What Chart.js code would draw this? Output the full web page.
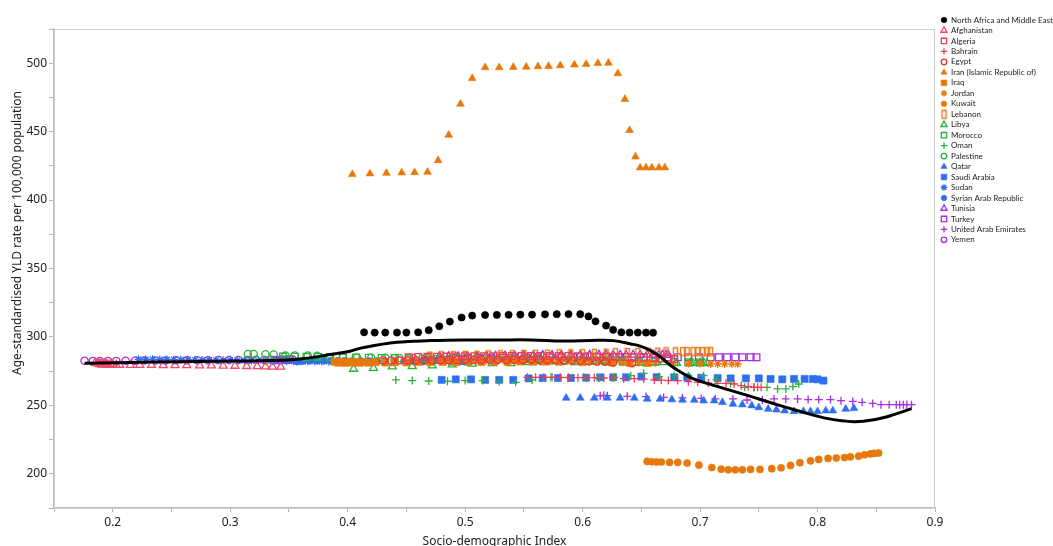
<!DOCTYPE html>
<html>
<head>
<meta charset="utf-8">
<script src="https://cdn.jsdelivr.net/npm/chart.js@4/dist/chart.umd.min.js"></script>
<style>
  html, body { margin: 0; padding: 0; background: #fff; overflow: hidden; }
  #wrap { position: relative; width: 1053px; height: 560px; }
</style>
</head>
<body>
<div id="wrap"><canvas id="sdiChart"></canvas></div>
<script>
// axis ticks
const xTickLabels = [0.2, 0.3, 0.4, 0.5, 0.6, 0.7, 0.8, 0.9];
const yTickLabels = [200, 250, 300, 350, 400, 450, 500];
const xTitle = 'Socio-demographic Index';
const yTitle = 'Age-standardised YLD rate per 100,000 population';

// smoothed expected curve (SDI, YLD rate)
const trendLine = [[0.176,280.7],[0.232,281.6],[0.283,282.2],[0.332,282.7],[0.360,283.9],[0.385,287.1],[0.402,289.6],[0.413,292.2],[0.442,296.1],[0.471,297.3],[0.499,297.8],[0.528,297.8],[0.556,297.8],[0.584,297.0],[0.613,297.6],[0.626,297.3],[0.641,294.9],[0.649,293.3],[0.658,290.0],[0.667,284.9],[0.675,279.1],[0.684,274.0],[0.692,270.3],[0.701,267.3],[0.718,263.0],[0.741,257.1],[0.763,251.2],[0.786,245.4],[0.809,240.3],[0.831,238.1],[0.848,239.5],[0.865,243.2],[0.880,247.6]];

// series: [SDI, YLD rate]
const nameRegion = [[0.414,303.4],[0.423,303.2],[0.432,303.2],[0.442,303.2],[0.450,303.2],[0.460,303.4],[0.469,304.9],[0.478,307.8],[0.487,311.2],[0.497,314.2],[0.506,315.6],[0.517,316.0],[0.527,316.1],[0.537,316.2],[0.547,316.3],[0.557,316.3],[0.568,316.5],[0.578,316.6],[0.588,316.7],[0.598,316.6],[0.605,315.0],[0.611,311.4],[0.620,308.3],[0.626,305.2],[0.633,303.4],[0.640,303.2],[0.647,303.2],[0.654,303.2],[0.660,303.1]];
const afghanistan = [[0.185,281.0],[0.187,280.5],[0.188,281.0],[0.189,280.0],[0.190,280.5],[0.191,279.6],[0.192,280.2],[0.193,280.6],[0.194,279.6],[0.195,280.1],[0.196,279.6],[0.198,280.0],[0.200,279.5],[0.203,279.5],[0.206,279.4],[0.215,279.4],[0.223,279.4],[0.233,279.4],[0.243,279.3],[0.253,279.3],[0.263,279.2],[0.274,279.1],[0.284,279.0],[0.294,278.9],[0.304,278.8],[0.314,278.6],[0.323,278.5],[0.330,278.3],[0.336,278.2],[0.343,278.1]];
const algeria = [[0.452,285.2],[0.460,285.3],[0.468,285.4],[0.476,285.5],[0.484,285.6],[0.492,285.7],[0.500,285.8],[0.508,285.8],[0.516,285.9],[0.524,285.9],[0.532,286.0],[0.540,286.0],[0.548,286.1],[0.556,286.1],[0.564,286.1],[0.572,286.1],[0.580,286.0],[0.588,286.0],[0.596,285.9],[0.604,285.8],[0.612,285.7],[0.620,285.6],[0.628,285.5],[0.636,285.3],[0.644,285.1],[0.652,284.9],[0.660,284.6],[0.667,284.3],[0.673,284.0],[0.678,283.8]];
const bahrain = [[0.553,270.5],[0.560,270.5],[0.567,270.5],[0.574,270.5],[0.581,270.5],[0.588,270.2],[0.596,270.2],[0.603,270.2],[0.610,270.2],[0.618,270.0],[0.626,270.0],[0.635,269.5],[0.644,269.5],[0.652,269.2],[0.661,268.6],[0.667,268.4],[0.673,268.1],[0.681,268.1],[0.690,267.3],[0.698,266.8],[0.707,266.4],[0.715,266.1],[0.722,266.1],[0.729,265.6],[0.735,264.4],[0.741,263.7],[0.746,263.2],[0.749,263.2],[0.752,263.2]];
const egypt = [[0.430,282.8],[0.437,282.8],[0.444,282.9],[0.451,282.9],[0.458,283.0],[0.465,283.0],[0.472,283.1],[0.479,283.1],[0.486,283.2],[0.493,283.2],[0.500,283.3],[0.507,283.3],[0.514,283.3],[0.521,283.4],[0.528,283.4],[0.535,283.4],[0.542,283.4],[0.549,283.4],[0.556,283.3],[0.563,283.3],[0.570,283.2],[0.577,283.1],[0.584,283.0],[0.591,282.8],[0.598,282.6],[0.605,282.3],[0.612,282.0],[0.619,281.8],[0.626,281.4],[0.642,280.7]];
const iran = [[0.404,418.8],[0.419,419.3],[0.433,419.7],[0.446,420.0],[0.457,420.2],[0.468,420.5],[0.477,429.0],[0.486,447.5],[0.496,470.2],[0.506,489.0],[0.517,496.9],[0.529,496.9],[0.541,497.1],[0.552,497.3],[0.562,497.6],[0.571,497.8],[0.581,498.3],[0.593,498.8],[0.603,499.3],[0.613,500.0],[0.622,500.2],[0.630,492.5],[0.636,473.7],[0.640,451.0],[0.645,431.7],[0.649,423.7],[0.654,423.7],[0.659,423.7],[0.665,423.7],[0.670,423.7]];
const iraq = [[0.389,281.8],[0.392,281.2],[0.395,281.9],[0.398,281.0],[0.401,281.6],[0.404,281.3],[0.407,281.8],[0.410,281.1],[0.414,281.5],[0.418,281.2],[0.424,281.6],[0.432,281.3],[0.440,281.5],[0.450,281.4],[0.460,281.6],[0.470,281.5],[0.481,281.7],[0.492,281.6],[0.503,281.8],[0.514,281.7],[0.525,281.9],[0.536,281.8],[0.547,282.0],[0.558,281.9],[0.569,282.0],[0.580,281.9],[0.600,281.6],[0.625,281.3],[0.640,281.0],[0.655,280.8]];
const jordan = [[0.470,282.4],[0.478,282.5],[0.486,282.5],[0.494,282.6],[0.502,282.6],[0.510,282.6],[0.518,282.7],[0.526,282.7],[0.534,282.7],[0.542,282.6],[0.550,282.6],[0.558,282.5],[0.566,282.4],[0.574,282.3],[0.582,282.2],[0.590,282.1],[0.598,282.0],[0.606,281.9],[0.614,281.8],[0.622,281.7],[0.634,281.5],[0.648,281.3],[0.662,281.1],[0.676,280.9],[0.690,280.6],[0.700,280.5],[0.709,280.3],[0.715,280.3],[0.721,280.3],[0.727,280.2],[0.732,280.1]];
const kuwait = [[0.655,209.0],[0.659,208.8],[0.663,208.6],[0.667,208.6],[0.674,208.3],[0.681,208.3],[0.689,207.8],[0.699,206.4],[0.710,204.6],[0.718,203.4],[0.724,202.9],[0.730,202.9],[0.736,202.9],[0.743,203.2],[0.751,203.2],[0.761,203.7],[0.769,204.4],[0.777,206.1],[0.785,208.1],[0.794,209.5],[0.801,210.5],[0.809,211.2],[0.816,211.5],[0.823,211.9],[0.828,212.4],[0.835,212.9],[0.840,213.9],[0.845,214.6],[0.848,214.9],[0.852,215.2]];
const lebanon = [[0.470,286.0],[0.480,286.2],[0.490,286.3],[0.500,286.5],[0.510,286.6],[0.520,286.8],[0.530,286.9],[0.540,287.0],[0.550,287.2],[0.560,287.3],[0.570,287.4],[0.580,287.6],[0.590,287.7],[0.600,287.8],[0.610,288.0],[0.620,288.2],[0.628,288.5],[0.638,288.6],[0.647,288.6],[0.656,288.8],[0.664,288.9],[0.671,289.1],[0.679,289.1],[0.685,289.2],[0.689,289.3],[0.694,289.3],[0.698,289.3],[0.702,289.2],[0.706,289.2],[0.709,289.2]];
const libya = [[0.405,276.6],[0.422,277.3],[0.438,278.3],[0.455,278.5],[0.472,279.0],[0.489,279.8],[0.506,280.3],[0.523,280.7],[0.539,280.7],[0.553,281.4],[0.567,281.4],[0.581,281.4],[0.594,281.4],[0.605,281.9],[0.620,282.7],[0.630,283.2],[0.635,281.4],[0.645,281.0],[0.655,280.7],[0.669,281.4],[0.680,281.0],[0.692,281.2],[0.694,280.7],[0.700,280.9],[0.703,281.4],[0.706,280.7]];
const morocco = [[0.345,285.6],[0.355,285.5],[0.365,285.4],[0.375,285.3],[0.385,285.2],[0.396,285.1],[0.407,284.9],[0.418,284.8],[0.429,284.6],[0.440,284.5],[0.452,284.3],[0.464,284.2],[0.476,284.0],[0.488,283.9],[0.500,283.7],[0.512,283.6],[0.524,283.4],[0.536,283.3],[0.548,283.1],[0.560,283.0],[0.572,282.8],[0.584,282.7],[0.596,282.5],[0.608,282.4],[0.620,282.2],[0.634,282.0],[0.648,281.9],[0.662,281.7],[0.678,281.6],[0.690,281.4],[0.700,281.3]];
const oman = [[0.441,268.6],[0.455,268.1],[0.469,267.8],[0.485,267.6],[0.500,268.1],[0.515,268.1],[0.529,267.3],[0.543,266.8],[0.557,268.6],[0.573,270.5],[0.588,270.5],[0.601,270.5],[0.614,270.0],[0.627,270.5],[0.641,271.7],[0.652,273.4],[0.665,271.0],[0.678,271.7],[0.690,271.7],[0.703,271.7],[0.714,268.8],[0.726,265.9],[0.738,263.2],[0.746,263.2],[0.757,263.2],[0.766,262.0],[0.773,262.0],[0.779,263.7],[0.784,265.6]];
const palestine = [[0.315,287.6],[0.320,287.6],[0.330,287.3],[0.337,287.2],[0.347,286.4],[0.355,286.4],[0.366,286.4],[0.374,286.3],[0.384,285.2],[0.396,285.2],[0.408,285.0],[0.420,284.8],[0.432,284.7],[0.444,284.6],[0.456,284.5],[0.468,284.4],[0.480,284.3],[0.492,284.2],[0.504,284.1],[0.516,284.0],[0.528,284.0],[0.540,283.9],[0.552,283.8],[0.564,283.7],[0.576,283.6],[0.588,283.5],[0.600,283.4],[0.610,283.3],[0.618,283.2],[0.626,283.1]];
const qatar = [[0.586,255.4],[0.598,255.4],[0.610,255.4],[0.621,255.4],[0.632,255.4],[0.644,255.4],[0.655,254.7],[0.666,254.7],[0.676,254.2],[0.685,253.9],[0.695,253.9],[0.703,253.4],[0.712,253.4],[0.719,252.2],[0.728,251.0],[0.736,250.5],[0.744,249.8],[0.750,248.5],[0.758,247.3],[0.765,246.8],[0.772,246.1],[0.780,245.6],[0.788,245.6],[0.794,245.6],[0.800,245.6],[0.807,246.1],[0.813,246.1],[0.824,247.3],[0.831,247.8]];
const saudiArabia = [[0.480,268.6],[0.492,269.0],[0.505,269.0],[0.517,268.6],[0.529,268.6],[0.541,268.6],[0.554,269.7],[0.566,269.9],[0.579,270.0],[0.590,270.0],[0.603,270.2],[0.615,270.5],[0.626,270.5],[0.637,270.5],[0.650,271.0],[0.663,270.6],[0.678,270.5],[0.689,270.5],[0.701,270.2],[0.715,270.0],[0.726,269.7],[0.739,269.7],[0.750,269.7],[0.760,269.3],[0.770,269.0],[0.780,269.3],[0.789,269.3],[0.796,269.3],[0.800,269.0],[0.805,268.1]];
const sudan = [[0.222,283.6],[0.228,283.5],[0.234,283.6],[0.240,283.4],[0.246,283.5],[0.252,283.4],[0.258,283.3],[0.264,283.3],[0.270,283.2],[0.276,283.2],[0.282,283.1],[0.288,283.0],[0.294,283.0],[0.300,282.9],[0.306,282.8],[0.312,282.8],[0.318,282.7],[0.324,282.6],[0.330,282.6],[0.336,282.5],[0.342,282.4],[0.348,282.4],[0.354,282.3],[0.360,282.3],[0.366,282.2],[0.372,282.2],[0.378,282.1],[0.384,282.1],[0.390,282.0],[0.396,282.0]];
const syria = [[0.357,282.0],[0.362,282.5],[0.368,282.7],[0.374,282.7],[0.380,282.7],[0.386,282.6],[0.392,282.6],[0.398,282.5],[0.404,282.4],[0.411,282.4],[0.418,282.3],[0.425,282.3],[0.432,282.3],[0.440,282.2],[0.448,282.2],[0.456,282.2],[0.464,282.1],[0.472,282.1],[0.480,282.0],[0.488,282.0],[0.495,281.9],[0.500,281.9],[0.498,282.3],[0.490,282.5],[0.482,282.7],[0.476,282.8],[0.472,282.9],[0.470,283.0],[0.468,283.0],[0.466,283.0]];
const tunisia = [[0.478,285.6],[0.486,285.7],[0.494,285.8],[0.502,285.9],[0.510,286.0],[0.518,286.1],[0.526,286.2],[0.534,286.3],[0.542,286.4],[0.550,286.5],[0.558,286.5],[0.566,286.6],[0.574,286.6],[0.582,286.7],[0.590,286.7],[0.598,286.8],[0.606,286.8],[0.614,286.9],[0.620,286.9],[0.626,286.9],[0.632,286.9],[0.637,286.9],[0.643,286.9],[0.649,286.9],[0.655,286.9],[0.660,286.9],[0.665,286.9],[0.668,286.8],[0.671,286.8],[0.673,286.7]];
const turkey = [[0.492,284.6],[0.502,284.7],[0.512,284.7],[0.522,284.8],[0.532,284.8],[0.542,284.9],[0.552,284.9],[0.562,285.0],[0.572,285.0],[0.582,285.0],[0.592,285.1],[0.602,285.1],[0.612,285.1],[0.622,285.1],[0.632,285.1],[0.642,285.1],[0.652,285.1],[0.662,285.1],[0.672,285.1],[0.681,285.1],[0.690,285.1],[0.699,285.1],[0.709,285.1],[0.716,285.1],[0.723,285.1],[0.730,285.1],[0.736,285.1],[0.743,285.1],[0.748,285.1]];
const uae = [[0.615,257.0],[0.618,257.3],[0.621,257.1],[0.638,256.6],[0.654,256.4],[0.669,255.8],[0.685,255.4],[0.701,255.1],[0.713,254.7],[0.728,254.7],[0.740,253.9],[0.753,253.9],[0.763,254.7],[0.773,254.7],[0.783,254.7],[0.792,254.2],[0.801,254.2],[0.811,254.2],[0.820,253.4],[0.830,252.9],[0.838,252.2],[0.847,251.4],[0.854,250.5],[0.861,250.5],[0.867,250.5],[0.870,250.5],[0.873,250.5],[0.876,250.5],[0.880,250.5]];
const yemen = [[0.176,282.6],[0.183,282.5],[0.189,282.4],[0.196,282.4],[0.203,282.5],[0.211,282.6],[0.219,282.6],[0.227,282.7],[0.236,282.8],[0.245,282.8],[0.254,282.9],[0.263,282.9],[0.272,283.0],[0.281,283.0],[0.290,283.1],[0.299,283.1],[0.307,283.2],[0.315,283.2],[0.322,283.3],[0.329,283.3],[0.335,283.4],[0.340,283.4],[0.344,283.5],[0.348,283.5],[0.351,283.5],[0.353,283.6],[0.350,283.4],[0.346,283.2],[0.342,283.0],[0.338,282.9]];

const seriesLabels = ['North Africa and Middle East', 'Afghanistan', 'Algeria', 'Bahrain', 'Egypt',
  'Iran (Islamic Republic of)', 'Iraq', 'Jordan', 'Kuwait', 'Lebanon', 'Libya', 'Morocco', 'Oman',
  'Palestine', 'Qatar', 'Saudi Arabia', 'Sudan', 'Syrian Arab Republic', 'Tunisia', 'Turkey',
  'United Arab Emirates', 'Yemen'];
const seriesData = [nameRegion, afghanistan, algeria, bahrain, egypt, iran, iraq, jordan, kuwait,
  lebanon, libya, morocco, oman, palestine, qatar, saudiArabia, sudan, syria, tunisia, turkey, uae, yemen];

// marker looks, same order as the labels
const RED = '#ef3b55', ORANGE = '#e9780c', GREEN = '#27b23b', BLUE = '#2f6ef0', PURPLE = '#a82be6';
const markers = [
  { style: 'circle', color: '#000', fill: true, r: 3.6, lr: 2.8 },
  { style: 'triangle', color: '#f24a6a', fill: false, r: 4.6, lr: 3.6 },
  { style: 'rect', color: RED, fill: false, r: 4.8, lr: 3.8 },
  { style: 'cross', color: RED, fill: false, r: 4, lr: 3.2 },
  { style: 'circle', color: '#f0302e', fill: false, r: 3.6, lr: 2.8 },
  { style: 'triangle', color: ORANGE, fill: true, r: 4.5, lr: 3.6 },
  { style: 'rect', color: ORANGE, fill: true, r: 5, lr: 4 },
  { style: 'star', color: ORANGE, fill: false, r: 4, lr: 3.2 },
  { style: 'circle', color: ORANGE, fill: true, r: 3.6, lr: 2.8 },
  { style: 'tallRect', color: ORANGE, fill: false, r: 4, lr: 3 },
  { style: 'triangle', color: GREEN, fill: false, r: 4.6, lr: 3.6 },
  { style: 'rect', color: GREEN, fill: false, r: 4.8, lr: 3.8 },
  { style: 'cross', color: GREEN, fill: false, r: 4, lr: 3.2 },
  { style: 'circle', color: GREEN, fill: false, r: 3.6, lr: 2.8 },
  { style: 'triangle', color: BLUE, fill: true, r: 4.5, lr: 3.6 },
  { style: 'rect', color: BLUE, fill: true, r: 5, lr: 4 },
  { style: 'star', color: BLUE, fill: false, r: 4, lr: 3.2 },
  { style: 'circle', color: BLUE, fill: true, r: 3.6, lr: 2.8 },
  { style: 'triangle', color: PURPLE, fill: false, r: 4.6, lr: 3.6 },
  { style: 'rect', color: PURPLE, fill: false, r: 4.8, lr: 3.8 },
  { style: 'cross', color: PURPLE, fill: false, r: 4, lr: 3.2 },
  { style: 'circle', color: PURPLE, fill: false, r: 3.6, lr: 2.8 }
];

function tallRectImg(color) {
  const c = document.createElement('canvas');
  c.width = 7; c.height = 11;
  const g = c.getContext('2d');
  g.strokeStyle = color;
  g.lineWidth = 1.4;
  g.strokeRect(1.5, 1.5, 4, 8);
  return c;
}

const toXY = arr => arr.map(([x, y]) => ({ x, y }));
const isTick = (list, v) => list.some(t => Math.abs(t - v) < 1e-6);

const datasets = [{
  label: 'trend',
  data: toXY(trendLine),
  showLine: true,
  borderColor: '#000',
  borderWidth: 3,
  pointRadius: 0,
  tension: 0.4,
  fill: false,
  inLegend: false
}];
seriesLabels.forEach((lab, i) => {
  const m = markers[i];
  datasets.push({
    label: lab,
    data: toXY(seriesData[i]),
    pointStyle: m.style === 'tallRect' ? tallRectImg(m.color) : m.style,
    pointRadius: m.r,
    borderColor: m.color,
    backgroundColor: m.fill ? m.color : 'rgba(0,0,0,0)',
    pointBorderWidth: m.fill ? 0.6 : 1.3,
    showLine: false,
    inLegend: true,
    legendR: m.lr
  });
});

// frame, rotated y title and the legend on the right
const decorations = {
  id: 'decorations',
  beforeDatasetsDraw(chart) {
    const { ctx, chartArea: a } = chart;
    ctx.save();
    ctx.strokeStyle = '#cfcfcf';
    ctx.lineWidth = 1;
    ctx.strokeRect(a.left + 0.5, a.top + 0.5, a.right - a.left - 1, a.bottom - a.top);
    ctx.restore();
  },
  afterDraw(chart) {
    const ctx = chart.ctx;
    ctx.save();
    ctx.translate(18, 233);
    ctx.rotate(-Math.PI / 2);
    ctx.font = '12px "Noto Sans"';
    ctx.fillStyle = '#222';
    ctx.textAlign = 'center';
    ctx.textBaseline = 'middle';
    ctx.fillText(yTitle, 0, 0);
    ctx.restore();

    ctx.save();
    ctx.font = '8px Lato';
    ctx.textBaseline = 'middle';
    let row = 0;
    chart.data.datasets.forEach(ds => {
      if (!ds.inLegend) return;
      const y = 20 + row * 10.47;
      ctx.fillStyle = ds.backgroundColor;
      ctx.strokeStyle = ds.borderColor;
      ctx.lineWidth = ds.pointBorderWidth;
      if (Chart.helpers && Chart.helpers.drawPoint) {
        Chart.helpers.drawPoint(ctx, { pointStyle: ds.pointStyle, radius: ds.legendR, rotation: 0, borderWidth: ds.pointBorderWidth }, 944, y);
      }
      ctx.fillStyle = '#222';
      ctx.fillText(ds.label, 951, y);
      row++;
    });
    ctx.restore();
  }
};

new Chart(document.getElementById('sdiChart'), {
  type: 'scatter',
  data: { datasets },
  plugins: [decorations],
  options: {
    responsive: true,
    maintainAspectRatio: false,
    animation: false,
    events: [],
    layout: { padding: { left: 0, top: 29, right: 118, bottom: 0 } },
    plugins: { legend: { display: false }, tooltip: { enabled: false } },
    scales: {
      x: {
        type: 'linear',
        min: 0.15,
        max: 0.9,
        afterFit: s => { s.height = 52; },
        ticks: {
          stepSize: 0.05,
          autoSkip: false,
          maxRotation: 0,
          padding: 3,
          color: '#222',
          font: { family: 'Noto Sans', size: 12 },
          callback: v => isTick(xTickLabels, v) ? v.toFixed(1) : ''
        },
        grid: { drawOnChartArea: false, drawTicks: true, tickLength: 4, color: '#b5b5b5' },
        border: { color: '#bdbdbd', width: 1.5 },
        title: {
          display: true,
          text: xTitle,
          color: '#222',
          font: { family: 'Noto Sans', size: 12 },
          padding: { top: 0, bottom: 11 }
        }
      },
      y: {
        min: 175,
        max: 525,
        afterFit: s => { s.width = 54; },
        ticks: {
          stepSize: 25,
          autoSkip: false,
          padding: 2,
          color: '#222',
          font: { family: 'Noto Sans', size: 12 },
          callback: v => isTick(yTickLabels, v) ? String(v) : ''
        },
        grid: { drawOnChartArea: false, drawTicks: true, tickLength: 5, color: '#b5b5b5' },
        border: { color: '#bdbdbd', width: 1.5 }
      }
    }
  }
});
</script>
</body>
</html>
